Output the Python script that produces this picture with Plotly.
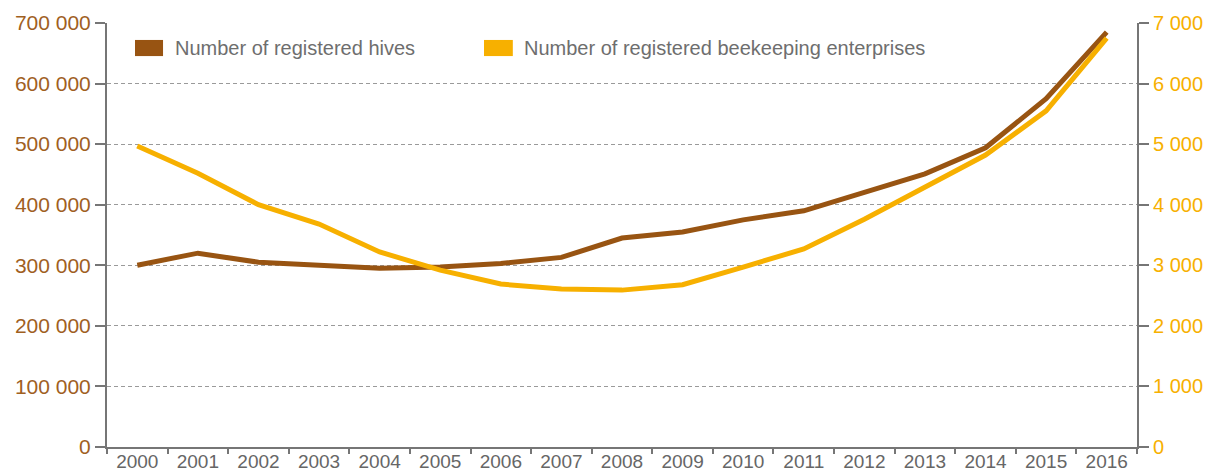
import plotly.graph_objects as go

years = [str(y) for y in range(2000, 2017)]
hives = [300000, 320000, 305000, 300000, 295000, 297000, 303000, 313000, 345000,
         355000, 375000, 390000, 420000, 451000, 494000, 575000, 685000]
enterprises = [4970, 4520, 4000, 3680, 3220, 2920, 2690, 2610, 2590,
               2680, 2970, 3270, 3760, 4280, 4820, 5550, 6750]
series_names = ["Number of registered hives", "Number of registered beekeeping enterprises"]

BROWN = "#985412"
GOLD = "#F7B000"
AXIS = "#767676"
FONT = "Liberation Sans, Arial, sans-serif"

fig = go.Figure()
fig.add_trace(go.Scatter(x=years, y=hives, mode="lines", name=series_names[0],
                         line=dict(color=BROWN, width=5), yaxis="y", showlegend=False))
fig.add_trace(go.Scatter(x=years, y=enterprises, mode="lines", name=series_names[1],
                         line=dict(color=GOLD, width=5), yaxis="y2", showlegend=False))

# manual legend (rect swatches + text)
legend_pos = [(0.0272, 0.0544, 0.0641, BROWN), (0.366, 0.394, 0.403, GOLD)]
for (x0, x1, xt, col), name in zip(legend_pos, series_names):
    fig.add_shape(type="rect", xref="paper", yref="paper", x0=x0, x1=x1, y0=0.922, y1=0.960,
                  fillcolor=col, line=dict(width=0))
    fig.add_annotation(xref="paper", yref="paper", x=xt, y=0.941, xanchor="left", yanchor="middle",
                       text=name, showarrow=False, font=dict(size=20, color="#6e6e6e", family=FONT))

fig.update_layout(
    width=1210, height=474,
    margin=dict(l=107, r=73, t=23, b=27, autoexpand=False),
    paper_bgcolor="white", plot_bgcolor="white",
    separators=". ",
    font=dict(family=FONT, size=20),
    xaxis=dict(type="category", range=[-0.5, 16.5], tickson="boundaries", ticks="outside", ticklen=5,
               tickwidth=2, tickcolor=AXIS, showline=True, linecolor=AXIS, linewidth=2,
               showgrid=False, tickfont=dict(size=19, color="#666666"), zeroline=False,
               automargin=False, ticklabelstandoff=-4),
    yaxis=dict(range=[0, 700000], dtick=100000, tickformat=",d", ticks="outside", ticklen=10,
               tickwidth=2, tickcolor=AXIS, showline=True, linecolor=AXIS, linewidth=2,
               showgrid=True, gridcolor="#9a9a9a", gridwidth=1, griddash="4px,3px",
               zeroline=False, tickfont=dict(size=21, color="#A0601F"), automargin=False),
    yaxis2=dict(range=[0, 7000], dtick=1000, tickformat=",d", overlaying="y", side="right",
                ticks="outside", ticklen=10, tickwidth=2, tickcolor=AXIS, showline=True,
                linecolor=AXIS, linewidth=2, showgrid=False, zeroline=False,
                tickfont=dict(size=20, color=GOLD), automargin=False),
)

fig.write_html("out.html", config={"displayModeBar": False},
               post_script="document.body.style.margin='0';document.body.style.overflow='hidden';")
